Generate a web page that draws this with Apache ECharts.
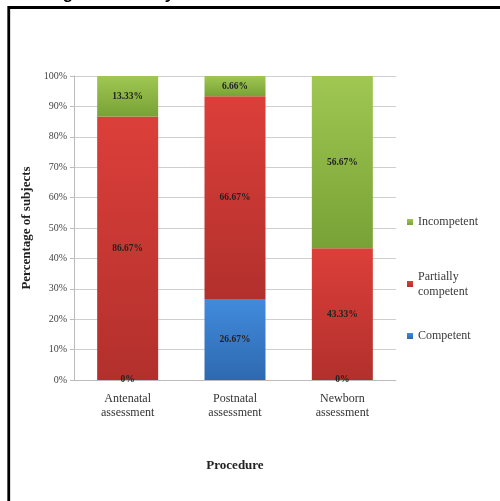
<!DOCTYPE html>
<html>
    <head>
        <meta charset="UTF-8">
        <script src="https://cdn.jsdelivr.net/npm/echarts@6/dist/echarts.min.js"></script>
        <style>
            html, body { margin: 0; padding: 0; background: #fff; }
        </style>
    </head>
    <body>
        <div id="chart" style="width: 500px; height: 501px;"></div>
        <script>
            // data
            const procedures = ['Antenatal\nassessment', 'Postnatal\nassessment', 'Newborn\nassessment'];
            const competent = [0, 26.67, 0];
            const partially = [86.67, 66.67, 43.33];
            const incompetent = [13.33, 6.66, 56.67];

            const serif = '"Liberation Serif", "DejaVu Serif", serif';

            function grad(top, bottom) {
                return new echarts.graphic.LinearGradient(0, 0, 0, 1, [
                    {offset: 0, color: top},
                    {offset: 1, color: bottom}
                ]);
            }

            function legendAt(name, top) {
                return {
                    data: [name],
                    left: 407,
                    top: top,
                    padding: 0,
                    orient: 'vertical',
                    itemWidth: 6,
                    itemHeight: 6,
                    itemGap: 0,
                    icon: 'rect',
                    selectedMode: false,
                    formatter: n => n.replace('Partially ', 'Partially\n'),
                    textStyle: {fontFamily: serif, fontSize: 12, color: '#3a3a3a', lineHeight: 15, padding: [0, 0, 0, 0]}
                };
            }

            const label = {
                show: true,
                position: 'inside',
                fontFamily: serif,
                fontWeight: 'bold',
                fontSize: 9.5,
                color: '#222',
                formatter: p => p.value + '%'
            };

            const chart = echarts.init(document.getElementById('chart'));
            chart.setOption({
                animation: false,
                backgroundColor: '#fff',
                graphic: [
                    {
                        type: 'text',
                        left: 8,
                        top: -14,
                        style: {
                            text: 'Grading of Maternity Clinical Skills',
                            font: 'bold 17px "Liberation Sans", Arial, sans-serif',
                            fill: '#000'
                        }
                    },
                    {
                        type: 'rect',
                        shape: {x: 8.75, y: 7.5, width: 600, height: 600},
                        style: {fill: 'none', stroke: '#000', lineWidth: 2.8},
                        z: 10
                    }
                ],
                legend: [
                    legendAt('Incompetent', 214.5),
                    legendAt('Partially competent', 269),
                    legendAt('Competent', 328.5)
                ],
                grid: {left: 74, right: 104, top: 76, bottom: 121},
                xAxis: {
                    type: 'category',
                    data: procedures,
                    name: 'Procedure',
                    nameLocation: 'middle',
                    nameGap: 79,
                    nameTextStyle: {fontFamily: serif, fontWeight: 'bold', fontSize: 13, color: '#222'},
                    axisLine: {lineStyle: {color: '#bbb'}},
                    axisTick: {show: false},
                    axisLabel: {fontFamily: serif, fontSize: 12, color: '#333', lineHeight: 14, margin: 12}
                },
                yAxis: {
                    type: 'value',
                    min: 0,
                    max: 100,
                    interval: 10,
                    name: 'Percentage of subjects',
                    nameLocation: 'middle',
                    nameGap: 37,
                    nameTextStyle: {fontFamily: serif, fontWeight: 'bold', fontSize: 13, color: '#222'},
                    axisLine: {show: true, lineStyle: {color: '#bbb'}},
                    axisTick: {show: true, length: 4, lineStyle: {color: '#bbb'}},
                    splitLine: {lineStyle: {color: '#cfcfcf'}},
                    axisLabel: {fontFamily: serif, fontSize: 10, color: '#444', margin: 7, formatter: '{value}%'}
                },
                series: [
                    {
                        name: 'Competent',
                        type: 'bar',
                        stack: 'all',
                        barWidth: 61,
                        data: competent,
                        itemStyle: {color: grad('#418bdd', '#2e69b0')},
                        label: label
                    },
                    {
                        name: 'Partially competent',
                        type: 'bar',
                        stack: 'all',
                        data: partially,
                        itemStyle: {color: grad('#dc3f3a', '#b2302c')},
                        label: label
                    },
                    {
                        name: 'Incompetent',
                        type: 'bar',
                        stack: 'all',
                        data: incompetent,
                        itemStyle: {color: grad('#a0c752', '#78a236')},
                        label: label
                    }
                ]
            });
        </script>
    </body>
</html>
